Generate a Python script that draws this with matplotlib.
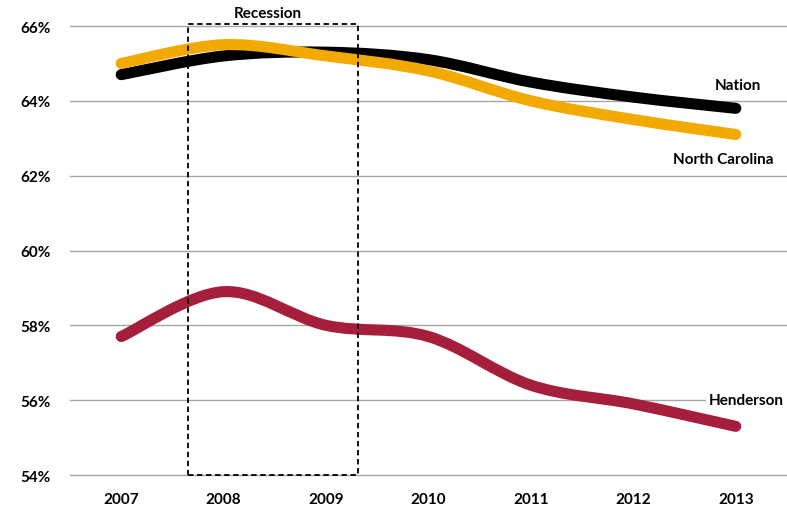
import numpy as np
import matplotlib
matplotlib.use("Agg")
import matplotlib.pyplot as plt
from matplotlib.path import Path
from matplotlib.patches import PathPatch, Rectangle

years = ["2007", "2008", "2009", "2010", "2011", "2012", "2013"]
nation = [64.7, 65.2, 65.3, 65.1, 64.5, 64.1, 63.8]
north_carolina = [65.0, 65.5, 65.2, 64.8, 64.0, 63.5, 63.1]
henderson = [57.7, 58.9, 58.0, 57.7, 56.4, 55.9, 55.3]
yticks = [54, 56, 58, 60, 62, 64, 66]

plt.rcParams["font.family"] = ["Lato", "DejaVu Sans"]
plt.rcParams["font.weight"] = "bold"


def smooth_path(xs, ys):
    # Excel-style smoothed line: cubic Bezier segments (Catmull-Rom control points)
    pts = np.column_stack([xs, ys]).astype(float)
    n = len(pts)
    verts = [pts[0]]
    codes = [Path.MOVETO]
    for i in range(n - 1):
        p0 = pts[max(i - 1, 0)]
        p1 = pts[i]
        p2 = pts[i + 1]
        p3 = pts[min(i + 2, n - 1)]
        c1 = p1 + (p2 - p0) / 6.0
        c2 = p2 - (p3 - p1) / 6.0
        verts += [c1, c2, p2]
        codes += [Path.CURVE4] * 3
    return Path(verts, codes)


fig = plt.figure(figsize=(7.87, 5.10), dpi=100)
ax = fig.add_axes([70 / 787, 34 / 510, 717 / 787, 449 / 510])
x = np.arange(len(years))

ax.set_xlim(-0.5, len(years) - 0.5)
ax.set_ylim(54, 66)
ax.set_yticks(yticks)
ax.set_yticklabels([f"{v}%" for v in yticks])
ax.set_xticks(x)
ax.set_xticklabels(years)
ax.tick_params(length=0, labelsize=11, colors="black")
ax.tick_params(axis="y", pad=14)
ax.tick_params(axis="x", pad=12)
for s in ax.spines.values():
    s.set_visible(False)
ax.grid(axis="y", color="#a6a6a6", linewidth=1.0)
for gl in ax.get_ygridlines():
    gl.set_clip_on(False)
ax.set_axisbelow(True)

series = [(nation, "black"), (north_carolina, "#f2a900"), (henderson, "#a51f3c")]
for vals, col in series:
    ax.add_patch(PathPatch(smooth_path(x, vals), facecolor="none", edgecolor=col,
                           linewidth=8, capstyle="round", joinstyle="round", zorder=3))

# recession box
ax.add_patch(Rectangle((0.655, 54.0), 1.655, 12.05, facecolor="none", edgecolor="black",
                       linestyle=(0, (3, 2)), linewidth=1.3, clip_on=False, zorder=4))
ax.text(1.43, 66.35, "Recession", ha="center", va="center", fontsize=11,
        fontweight="bold", clip_on=False)

ax.text(6.25, 64.43, "Nation", ha="right", va="center", fontsize=11, fontweight="bold")
ax.text(6.37, 62.45, "North Carolina", ha="right", va="center", fontsize=11,
        fontweight="bold")
ax.text(6.47, 56.0, "Henderson", ha="right", va="center", fontsize=11, fontweight="bold",
        bbox=dict(facecolor="white", edgecolor="none", pad=2), zorder=5)

fig.savefig("out.png", dpi=100)
